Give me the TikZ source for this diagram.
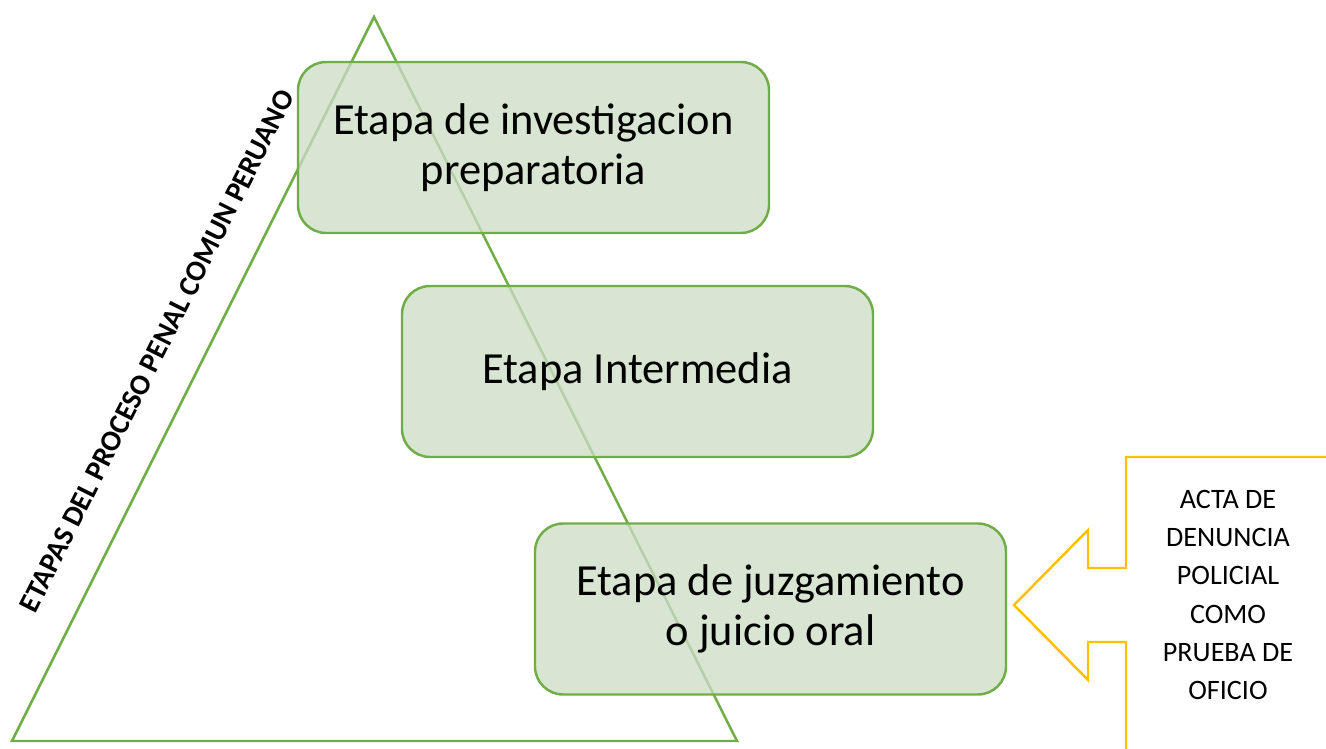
\documentclass[tikz,border=0pt]{standalone}
\usepackage{fontspec}
\setmainfont{Carlito}
\definecolor{grn}{RGB}{112,173,71}
\definecolor{boxfill}{RGB}{204,220,196}
\definecolor{yel}{RGB}{255,192,0}
\tikzset{
  stage/.style={draw=grn, line width=1.4pt, fill=boxfill, fill opacity=0.75, text opacity=1, rounded corners=16pt, minimum width=471*0.02cm, minimum height=171*0.02cm, align=center, font=\fontsize{25.3}{28.5}\selectfont, inner sep=0pt},
  side/.style={align=center, font=\fontsize{16}{21.8}\selectfont, inner sep=0pt},
}
\begin{document}
\begin{tikzpicture}[x=0.02cm,y=-0.02cm]
\useasboundingbox (0,0) rectangle (1326,749);
% triangle
\coordinate (apex) at (374,17);
\coordinate (bl) at (12,741);
\coordinate (br) at (737,741);
\draw[grn, line width=1.4pt, line join=miter] (apex) -- (bl) -- (br) -- cycle;
\node[rotate=63.4, font=\bfseries\fontsize{16.6}{19}\selectfont, inner sep=0pt] (title) at (157,351) {ETAPAS DEL PROCESO PENAL COMUN PERUANO};
% stages
\node[stage] (s1) at (533.5,147.5) {Etapa de investigacion\\preparatoria};
\node[stage] (s2) at (637.5,371.5) {Etapa Intermedia};
\node[stage] (s3) at (770.5,609) {Etapa de juzgamiento\\o juicio oral};
% callout
\coordinate (c2) at (1126,457);
\coordinate (c3) at (1126,568);
\coordinate (c4) at (1088,568);
\coordinate (c5) at (1088,530);
\coordinate (tip) at (1014,605);
\coordinate (c6) at (1088,680);
\coordinate (c7) at (1088,642);
\coordinate (c8) at (1126,642);
\begin{scope}
\clip (0,0) rectangle (1326,749);
\draw[yel, line width=1.4pt, line join=miter] (1330,457) -- (c2) -- (c3) -- (c4) -- (c5) -- (tip) -- (c6) -- (c7) -- (c8) -- (1126,753);
\end{scope}
\node[side] (acta) at (1228,595) {ACTA DE\\DENUNCIA\\POLICIAL\\COMO\\PRUEBA DE\\OFICIO};
\end{tikzpicture}
\end{document}
